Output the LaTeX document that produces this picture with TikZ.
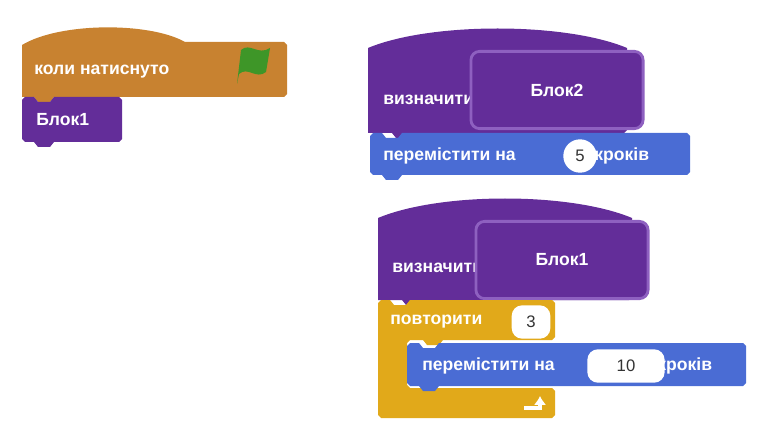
\documentclass[tikz,border=0pt]{standalone}
\usepackage{fontspec}
\setmainfont{Liberation Sans}
\usetikzlibrary{arrows.meta}
\definecolor{evOrange}{RGB}{200,130,48}
\definecolor{myPurple}{RGB}{99,45,153}
\definecolor{myPurpleLine}{RGB}{142,96,192}
\definecolor{motBlue}{RGB}{74,108,212}
\definecolor{ctlGold}{RGB}{225,169,26}
\definecolor{flagGreen}{RGB}{62,150,40}

% stack block: x1,y1,x2,y2
\newcommand{\stackpath}[4]{(#1,#2+3) -- (#1+3,#2) -- (#1+12,#2) -- (#1+16,#2+5) -- (#1+28,#2+5) -- (#1+32,#2) -- (#3-3,#2) -- (#3,#2+3) -- (#3,#4-3) -- (#3-3,#4) -- (#1+32,#4) -- (#1+28,#4+5) -- (#1+16,#4+5) -- (#1+12,#4) -- (#1+3,#4) -- (#1,#4-3) -- cycle}

\begin{document}
\begin{tikzpicture}[x=0.02cm, y=-0.02cm,
  lbl/.style={text=white, font=\bfseries\fontsize{10}{12}\selectfont, inner sep=0pt, anchor=west},
  numbox/.style={fill=white, rounded corners=6pt, minimum width=#1, minimum height=19, inner sep=0pt, font=\fontsize{9.5}{11}\selectfont, text=black!80},
  proto/.style={fill=myPurple, draw=myPurpleLine, line width=1.6pt, rounded corners=5pt, minimum width=98, minimum height=44, inner sep=0pt, text=white, font=\bfseries\fontsize{10}{12}\selectfont}]
  \useasboundingbox (0,0) rectangle (760,442);

  % when flag clicked
  \fill[evOrange] (22,97) -- (22,45) .. controls (60,22) and (150,22) .. (185,42) -- (284,42) -- (287,45) -- (287,94) -- (284,97) -- (54,97) -- (50,102) -- (38,102) -- (34,97) -- cycle;
  \node[lbl] (whenflag) at (34,72) {коли  натиснуто};
  \fill[flagGreen] (237,84) -- (241,50) .. controls (250,42) and (258,56) .. (270,48) -- (266,72) .. controls (256,80) and (248,66) .. (239,74) -- (237,84) -- cycle;

  % Блок1 call
  \fill[myPurple] \stackpath{22}{97}{122}{142};
  \node[lbl] (call) at (36,120) {Блок1};

  % define Блок2
  \fill[myPurple] (368,133) -- (368,48) .. controls (430,22) and (565,22) .. (627,48) -- (627,130) -- (624,133) -- (412,133) -- (408,138) -- (396,138) -- (392,133) -- cycle;
  \node[lbl] (defA) at (383,100) {визначити};
  \node[proto] (protoA) at (557,90) {Блок2};

  % move 5
  \fill[motBlue] \stackpath{370}{133}{690}{175};
  \node[lbl] (moveA) at (383,156) {перемістити  на};
  \node[numbox=19, circle, minimum size=19, rounded corners=0pt] (numA) at (580,156) {5};
  \node[lbl] (stepsA) at (594,156) {кроків};

  % define Блок1
  \fill[myPurple] (378,300) -- (378,218) .. controls (440,192) and (570,192) .. (632,218) -- (632,297) -- (629,300) -- (422,300) -- (418,305) -- (406,305) -- (402,300) -- cycle;
  \node[lbl] (defB) at (392,268) {визначити};
  \node[proto] (protoB) at (562,260) {Блок1};

  % repeat 3
  \fill[ctlGold] (378,303) -- (381,300) -- (390,300) -- (394,305) -- (406,305) -- (410,300) -- (552,300) -- (555,303) -- (555,337) -- (552,340)
    -- (443,340) -- (439,345) -- (427,345) -- (423,340) -- (410,340) -- (407,343) -- (407,385) -- (410,388)
    -- (552,388) -- (555,391) -- (555,415) -- (552,418) -- (381,418) -- (378,415) -- cycle;
  \node[lbl] (rep) at (390,322) {повторити};
  \node[numbox=22] (numB) at (531,322) {3};
  \fill[motBlue] \stackpath{407}{343}{746}{386};
  \node[lbl] (moveB) at (422,366) {перемістити на};
  \node[numbox=44] (numC) at (626,366) {10};
  \node[lbl] (stepsB) at (657,366) {кроків};
  \draw[white, line width=2.2pt, -{Latex[length=5pt,width=7pt]}] (524,408) -- (540,408) -- (540,396);
\end{tikzpicture}
\end{document}
